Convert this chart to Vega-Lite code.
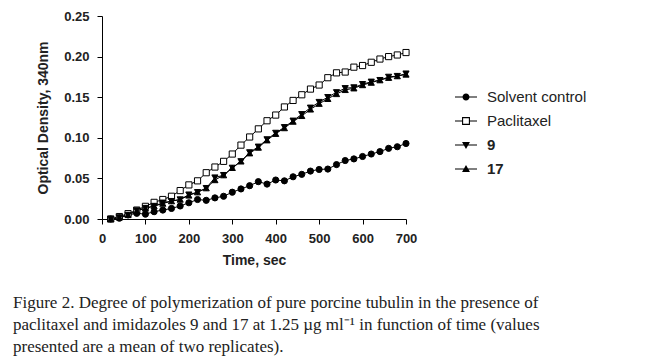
{
  "$schema": "https://vega.github.io/schema/vega-lite/v6.json",
  "width": 304,
  "height": 203,
  "autosize": {"type": "none"},
  "padding": {"left": 102, "top": 16, "right": 254, "bottom": 142},
  "background": "white",
  "config": {
    "view": {"stroke": null},
    "font": "Liberation Sans"
  },
  "title": {
    "text": [
      "Figure 2. Degree of polymerization of pure porcine tubulin in the presence of",
      "paclitaxel and imidazoles 9 and 17 at 1.25 µg ml⁻¹ in function of time (values",
      "presented are a mean of two replicates)."
    ],
    "orient": "bottom",
    "anchor": "start",
    "frame": "group",
    "dx": -89,
    "offset": 28,
    "font": "Liberation Serif",
    "fontSize": 17,
    "fontWeight": "normal",
    "color": "#222222",
    "lineHeight": 22
  },
  "datasets": {
    "od": [
      {"t": 20, "s": "Solvent control", "v": 0.000}, {"t": 40, "s": "Solvent control", "v": 0.001}, {"t": 60, "s": "Solvent control", "v": 0.005}, {"t": 80, "s": "Solvent control", "v": 0.007}, {"t": 100, "s": "Solvent control", "v": 0.006}, {"t": 120, "s": "Solvent control", "v": 0.009}, {"t": 140, "s": "Solvent control", "v": 0.011}, {"t": 160, "s": "Solvent control", "v": 0.013}, {"t": 180, "s": "Solvent control", "v": 0.016}, {"t": 200, "s": "Solvent control", "v": 0.020}, {"t": 220, "s": "Solvent control", "v": 0.024}, {"t": 240, "s": "Solvent control", "v": 0.023}, {"t": 260, "s": "Solvent control", "v": 0.026}, {"t": 280, "s": "Solvent control", "v": 0.028}, {"t": 300, "s": "Solvent control", "v": 0.033}, {"t": 320, "s": "Solvent control", "v": 0.037}, {"t": 340, "s": "Solvent control", "v": 0.041}, {"t": 360, "s": "Solvent control", "v": 0.046}, {"t": 380, "s": "Solvent control", "v": 0.043}, {"t": 400, "s": "Solvent control", "v": 0.048}, {"t": 420, "s": "Solvent control", "v": 0.047}, {"t": 440, "s": "Solvent control", "v": 0.052}, {"t": 460, "s": "Solvent control", "v": 0.055}, {"t": 480, "s": "Solvent control", "v": 0.059}, {"t": 500, "s": "Solvent control", "v": 0.061}, {"t": 520, "s": "Solvent control", "v": 0.0615}, {"t": 540, "s": "Solvent control", "v": 0.067}, {"t": 560, "s": "Solvent control", "v": 0.072}, {"t": 580, "s": "Solvent control", "v": 0.074}, {"t": 600, "s": "Solvent control", "v": 0.077}, {"t": 620, "s": "Solvent control", "v": 0.080}, {"t": 640, "s": "Solvent control", "v": 0.083}, {"t": 660, "s": "Solvent control", "v": 0.087}, {"t": 680, "s": "Solvent control", "v": 0.089}, {"t": 700, "s": "Solvent control", "v": 0.093},
      {"t": 20, "s": "Paclitaxel", "v": 0.000}, {"t": 40, "s": "Paclitaxel", "v": 0.003}, {"t": 60, "s": "Paclitaxel", "v": 0.0066}, {"t": 80, "s": "Paclitaxel", "v": 0.011}, {"t": 100, "s": "Paclitaxel", "v": 0.0156}, {"t": 120, "s": "Paclitaxel", "v": 0.0205}, {"t": 140, "s": "Paclitaxel", "v": 0.024}, {"t": 160, "s": "Paclitaxel", "v": 0.028}, {"t": 180, "s": "Paclitaxel", "v": 0.035}, {"t": 200, "s": "Paclitaxel", "v": 0.042}, {"t": 220, "s": "Paclitaxel", "v": 0.047}, {"t": 240, "s": "Paclitaxel", "v": 0.057}, {"t": 260, "s": "Paclitaxel", "v": 0.064}, {"t": 280, "s": "Paclitaxel", "v": 0.071}, {"t": 300, "s": "Paclitaxel", "v": 0.080}, {"t": 320, "s": "Paclitaxel", "v": 0.091}, {"t": 340, "s": "Paclitaxel", "v": 0.101}, {"t": 360, "s": "Paclitaxel", "v": 0.111}, {"t": 380, "s": "Paclitaxel", "v": 0.121}, {"t": 400, "s": "Paclitaxel", "v": 0.128}, {"t": 420, "s": "Paclitaxel", "v": 0.138}, {"t": 440, "s": "Paclitaxel", "v": 0.146}, {"t": 460, "s": "Paclitaxel", "v": 0.153}, {"t": 480, "s": "Paclitaxel", "v": 0.160}, {"t": 500, "s": "Paclitaxel", "v": 0.165}, {"t": 520, "s": "Paclitaxel", "v": 0.174}, {"t": 540, "s": "Paclitaxel", "v": 0.180}, {"t": 560, "s": "Paclitaxel", "v": 0.181}, {"t": 580, "s": "Paclitaxel", "v": 0.187}, {"t": 600, "s": "Paclitaxel", "v": 0.189}, {"t": 620, "s": "Paclitaxel", "v": 0.193}, {"t": 640, "s": "Paclitaxel", "v": 0.197}, {"t": 660, "s": "Paclitaxel", "v": 0.200}, {"t": 680, "s": "Paclitaxel", "v": 0.202}, {"t": 700, "s": "Paclitaxel", "v": 0.205},
      {"t": 20, "s": "9", "v": 0.000}, {"t": 40, "s": "9", "v": 0.002}, {"t": 60, "s": "9", "v": 0.005}, {"t": 80, "s": "9", "v": 0.0105}, {"t": 100, "s": "9", "v": 0.0135}, {"t": 120, "s": "9", "v": 0.016}, {"t": 140, "s": "9", "v": 0.020}, {"t": 160, "s": "9", "v": 0.022}, {"t": 180, "s": "9", "v": 0.024}, {"t": 200, "s": "9", "v": 0.030}, {"t": 220, "s": "9", "v": 0.033}, {"t": 240, "s": "9", "v": 0.038}, {"t": 260, "s": "9", "v": 0.051}, {"t": 280, "s": "9", "v": 0.054}, {"t": 300, "s": "9", "v": 0.063}, {"t": 320, "s": "9", "v": 0.071}, {"t": 340, "s": "9", "v": 0.082}, {"t": 360, "s": "9", "v": 0.089}, {"t": 380, "s": "9", "v": 0.098}, {"t": 400, "s": "9", "v": 0.106}, {"t": 420, "s": "9", "v": 0.113}, {"t": 440, "s": "9", "v": 0.121}, {"t": 460, "s": "9", "v": 0.129}, {"t": 480, "s": "9", "v": 0.137}, {"t": 500, "s": "9", "v": 0.144}, {"t": 520, "s": "9", "v": 0.150}, {"t": 540, "s": "9", "v": 0.156}, {"t": 560, "s": "9", "v": 0.161}, {"t": 580, "s": "9", "v": 0.162}, {"t": 600, "s": "9", "v": 0.166}, {"t": 620, "s": "9", "v": 0.169}, {"t": 640, "s": "9", "v": 0.171}, {"t": 660, "s": "9", "v": 0.175}, {"t": 680, "s": "9", "v": 0.176}, {"t": 700, "s": "9", "v": 0.179},
      {"t": 20, "s": "17", "v": 0.000}, {"t": 40, "s": "17", "v": 0.002}, {"t": 60, "s": "17", "v": 0.005}, {"t": 80, "s": "17", "v": 0.010}, {"t": 100, "s": "17", "v": 0.013}, {"t": 120, "s": "17", "v": 0.016}, {"t": 140, "s": "17", "v": 0.019}, {"t": 160, "s": "17", "v": 0.022}, {"t": 180, "s": "17", "v": 0.024}, {"t": 200, "s": "17", "v": 0.029}, {"t": 220, "s": "17", "v": 0.033}, {"t": 240, "s": "17", "v": 0.038}, {"t": 260, "s": "17", "v": 0.048}, {"t": 280, "s": "17", "v": 0.054}, {"t": 300, "s": "17", "v": 0.063}, {"t": 320, "s": "17", "v": 0.071}, {"t": 340, "s": "17", "v": 0.081}, {"t": 360, "s": "17", "v": 0.088}, {"t": 380, "s": "17", "v": 0.097}, {"t": 400, "s": "17", "v": 0.105}, {"t": 420, "s": "17", "v": 0.112}, {"t": 440, "s": "17", "v": 0.120}, {"t": 460, "s": "17", "v": 0.127}, {"t": 480, "s": "17", "v": 0.135}, {"t": 500, "s": "17", "v": 0.142}, {"t": 520, "s": "17", "v": 0.148}, {"t": 540, "s": "17", "v": 0.154}, {"t": 560, "s": "17", "v": 0.159}, {"t": 580, "s": "17", "v": 0.161}, {"t": 600, "s": "17", "v": 0.165}, {"t": 620, "s": "17", "v": 0.168}, {"t": 640, "s": "17", "v": 0.171}, {"t": 660, "s": "17", "v": 0.174}, {"t": 680, "s": "17", "v": 0.176}, {"t": 700, "s": "17", "v": 0.178}
    ]
  },
  "data": {"name": "od"},
  "encoding": {
    "x": {
      "field": "t", "type": "quantitative",
      "scale": {"domain": [0, 700], "nice": false, "zero": false},
      "axis": {
        "title": "Time, sec", "values": [0, 100, 200, 300, 400, 500, 600, 700],
        "grid": false, "domainColor": "black", "tickColor": "black", "tickSize": 5,
        "labelFont": "Liberation Sans", "labelFontSize": 13, "labelFontWeight": "bold", "labelColor": "#222",
        "labelPadding": 8, "labelFlush": false,
        "titleFont": "Liberation Sans", "titleFontSize": 14, "titleFontWeight": "bold", "titleColor": "#222", "titlePadding": 8
      }
    },
    "y": {
      "field": "v", "type": "quantitative",
      "scale": {"domain": [0, 0.25], "nice": false},
      "axis": {
        "title": "Optical Density, 340nm", "values": [0, 0.05, 0.1, 0.15, 0.2, 0.25], "format": ".2f",
        "grid": false, "domainColor": "black", "tickColor": "black", "tickSize": 5,
        "labelFont": "Liberation Sans", "labelFontSize": 13, "labelFontWeight": "bold", "labelColor": "#222",
        "labelPadding": 8, "labelFlush": false,
        "titleFont": "Liberation Sans", "titleFontSize": 14, "titleFontWeight": "bold", "titleColor": "#222", "titlePadding": 13
      }
    }
  },
  "resolve": {"scale": {"shape": "independent"}, "legend": {"shape": "independent"}},
  "layer": [
    {
      "mark": {"type": "line", "color": "black", "strokeWidth": 1},
      "encoding": {
        "detail": {"field": "s", "type": "nominal"}
      }
    },
    {
      "mark": {"type": "point", "filled": true, "stroke": "black", "strokeWidth": 1, "size": 38, "opacity": 1},
      "encoding": {
        "shape": {
          "field": "s", "type": "nominal",
          "scale": {"domain": ["Solvent control", "Paclitaxel", "9", "17"], "range": ["circle", "square", "triangle-down", "triangle-up"]},
          "legend": null
        },
        "fill": {
          "field": "s", "type": "nominal",
          "scale": {"domain": ["Solvent control", "Paclitaxel", "9", "17"], "range": ["black", "white", "black", "black"]},
          "legend": null
        }
      }
    },
    {
      "mark": {"type": "point", "filled": true, "color": "black", "opacity": 0},
      "encoding": {
        "shape": {
          "field": "s", "type": "nominal",
          "scale": {"domain": ["Solvent control", "Paclitaxel", "9", "17"], "range": [
            "M-1,-0.055H1V0.055H-1Z M-0.32,0A0.32,0.32 0 1,1 0.32,0A0.32,0.32 0 1,1 -0.32,0Z",
            "M-1,-0.055H-0.36V0.055H-1Z M0.36,-0.055H1V0.055H0.36Z M-0.36,-0.36H0.36V0.36H-0.36Z M-0.26,-0.26V0.26H0.26V-0.26Z",
            "M-1,-0.055H1V0.055H-1Z M-0.36,-0.27H0.36L0,0.36Z",
            "M-1,-0.055H1V0.055H-1Z M-0.36,0.27L0,-0.36L0.36,0.27Z"
          ]},
          "legend": {
            "title": null, "orient": "none", "legendX": 352, "legendY": 69,
            "symbolSize": 484, "symbolOpacity": 1, "symbolFillColor": "black",
            "rowPadding": 4, "labelOffset": 9,
            "labelFont": "Liberation Sans", "labelFontSize": 15, "labelColor": "#222",
            "labelFontWeight": {"expr": "datum.value == '9' || datum.value == '17' ? 'bold' : 'normal'"}
          }
        }
      }
    }
  ]
}
